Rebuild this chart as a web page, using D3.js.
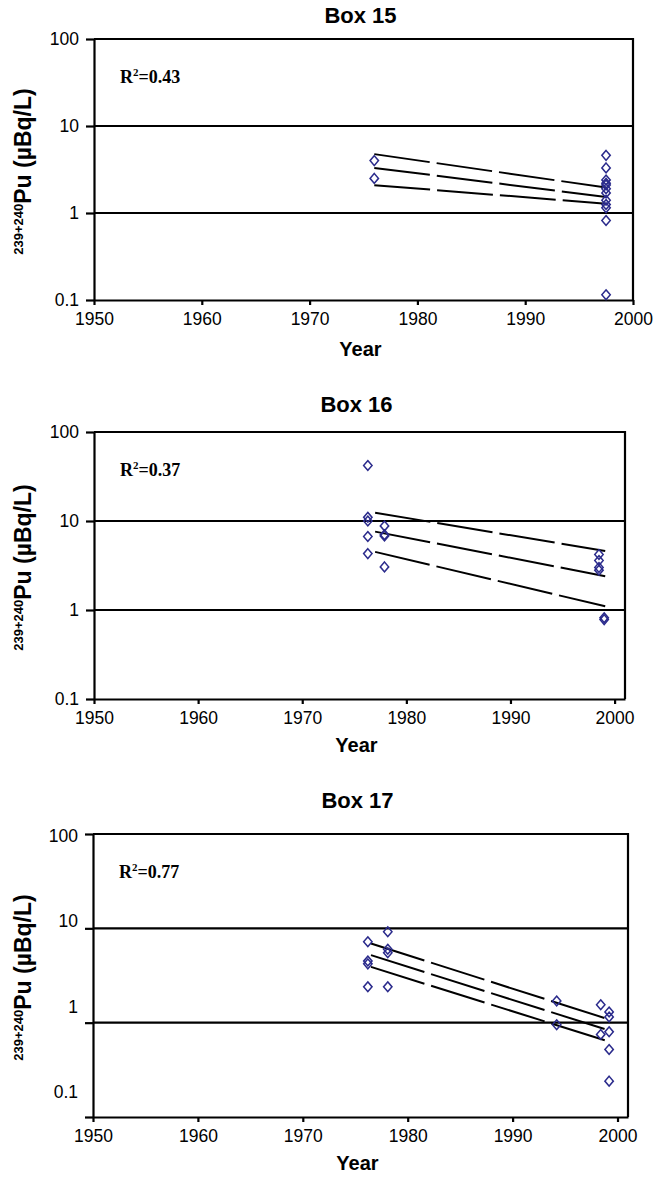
<!DOCTYPE html>
<html>
<head>
<meta charset="utf-8">
<script src="https://cdn.jsdelivr.net/npm/d3@7"></script>
<style>
  body { margin: 0; background: #fff; }
  svg { display: block; }
</style>
</head>
<body>
<svg id="chart" width="656" height="1180"></svg>
<script>
// ---- data -------------------------------------------------------------
const boxNames = ["Box 15", "Box 16", "Box 17"];
const rSquared = ["0.43", "0.37", "0.77"];
const yTicks = [0.1, 1, 10, 100];
const xTicks = [1950, 1960, 1970, 1980, 1990, 2000];

// 239+240Pu activity (µBq/L) by sampling year
const box15Years  = [1976, 1976, 1997.5, 1997.5, 1997.5, 1997.5, 1997.5, 1997.5, 1997.5, 1997.5, 1997.5, 1997.5, 1997.5, 1997.5];
const box15Values = [4.0, 2.5, 4.6, 3.3, 2.4, 2.2, 2.1, 1.9, 1.7, 1.4, 1.25, 1.15, 0.82, 0.115];

const box16Years  = [1976.3, 1976.3, 1976.3, 1976.3, 1976.3, 1977.9, 1977.9, 1977.9, 1977.9, 1998.5, 1998.5, 1998.5, 1998.5, 1999, 1999];
const box16Values = [42, 11, 10, 6.7, 4.3, 8.8, 7.0, 6.8, 3.05, 4.2, 3.6, 3.0, 2.8, 0.82, 0.78];

const box17Years  = [1976.2, 1976.2, 1976.2, 1976.2, 1978.1, 1978.1, 1978.1, 1978.1, 1994.2, 1994.2, 1998.4, 1998.4, 1999.2, 1999.2, 1999.2, 1999.2, 1999.2];
const box17Values = [7.2, 4.5, 4.2, 2.4, 9.2, 6.0, 5.5, 2.4, 1.7, 0.95, 1.55, 0.75, 1.3, 1.15, 0.8, 0.52, 0.24];

// regression line with its upper and lower bounds (start / end of the fit)
const box15FitYears = [1976, 1997.5];
const box15Upper = [4.75, 1.96];
const box15Fit   = [3.3, 1.53];
const box15Lower = [2.09, 1.28];

const box16FitYears = [1977, 1999.1];
const box16Upper = [12.4, 4.6];
const box16Fit   = [7.6, 2.4];
const box16Lower = [4.5, 1.1];

const box17FitYears = [1976.5, 1999];
const box17Upper = [6.9, 1.1];
const box17Fit   = [5.2, 0.84];
const box17Lower = [3.9, 0.64];

const panels = [
  { name: boxNames[0], r2: rSquared[0], years: box15Years, values: box15Values,
    fitYears: box15FitYears, bands: [box15Upper, box15Fit, box15Lower] },
  { name: boxNames[1], r2: rSquared[1], years: box16Years, values: box16Values,
    fitYears: box16FitYears, bands: [box16Upper, box16Fit, box16Lower] },
  { name: boxNames[2], r2: rSquared[2], years: box17Years, values: box17Values,
    fitYears: box17FitYears, bands: [box17Upper, box17Fit, box17Lower] }
];

// ---- layout -----------------------------------------------------------
const frames = [
  { left: 94, right: 633, top: 39,  bottom: 300,  xMax: 2000, titleY: 23,  yearY: 356 },
  { left: 94, right: 625, top: 432, bottom: 699,  xMax: 2001, titleY: 412, yearY: 752 },
  { left: 93, right: 628, top: 834, bottom: 1117, xMax: 2001, titleY: 808, yearY: 1170,
    labelTop: 836, labelBottom: 1092 }
];

const INK = "#000";
const MARK = "#2b2b8c";
const sans = "'Liberation Sans', Arial, sans-serif";
const serif = "'Liberation Serif', 'Times New Roman', serif";

const svg = d3.select("#chart");

panels.forEach((p, i) => {
  const f = frames[i];
  const x = d3.scaleLinear().domain([1950, f.xMax]).range([f.left, f.right]);
  const y = d3.scaleLog().domain([0.1, 100]).range([f.bottom, f.top]);
  const g = svg.append("g");

  // title
  g.append("text")
    .attr("x", (f.left + f.right) / 2 - 3).attr("y", f.titleY)
    .attr("text-anchor", "middle")
    .style("font", `bold 22px ${sans}`).attr("fill", INK)
    .text(p.name);

  // horizontal rules at 1 and 10, frame top and right
  g.selectAll("line.rule").data([1, 10]).join("line")
    .attr("class", "rule")
    .attr("x1", f.left).attr("x2", f.right)
    .attr("y1", d => y(d)).attr("y2", d => y(d))
    .attr("stroke", INK).attr("stroke-width", 2.2);
  g.append("path")
    .attr("d", `M${f.left},${y(100)}H${f.right}V${y(0.1)}`)
    .attr("fill", "none").attr("stroke", INK).attr("stroke-width", 2.2);

  // axes
  const xAxis = g.append("g")
    .attr("transform", `translate(0,${f.bottom})`)
    .call(d3.axisBottom(x).tickValues(xTicks).tickFormat(d3.format("d"))
      .tickSize(5).tickSizeOuter(0).tickPadding(8));
  const labelled = f.labelTop === undefined;
  const yAxis = g.append("g")
    .attr("transform", `translate(${f.left},0)`)
    .call(d3.axisLeft(y).tickValues(yTicks)
      .tickFormat(labelled ? (d => String(d)) : () => "")
      .tickSize(8).tickSizeOuter(0).tickPadding(7));

  if (!labelled) {
    // tick labels set on their own spacing in this panel
    const yl = d3.scaleLog().domain([0.1, 100]).range([f.labelBottom, f.labelTop]);
    const lab = g.append("g")
      .attr("transform", `translate(${f.left},0)`)
      .call(d3.axisLeft(yl).tickValues(yTicks).tickFormat(d => String(d))
        .tickSize(0).tickPadding(15));
    lab.select(".domain").remove();
    lab.selectAll("text").style("font", `17.5px ${sans}`).attr("fill", INK);
  }

  [xAxis, yAxis].forEach(a => {
    a.select(".domain").attr("stroke", INK).attr("stroke-width", 2.2);
    a.selectAll(".tick line").attr("stroke", INK).attr("stroke-width", 2.2);
    a.selectAll("text").style("font", `17.5px ${sans}`).attr("fill", INK);
  });

  // axis titles
  g.append("text")
    .attr("x", (f.left + f.right) / 2 - 3).attr("y", f.yearY)
    .attr("text-anchor", "middle")
    .style("font", `bold 20px ${sans}`).attr("fill", INK)
    .text("Year");

  const yt = g.append("text")
    .attr("transform", `translate(31,${(f.top + f.bottom) / 2 + 2}) rotate(-90)`)
    .attr("text-anchor", "middle")
    .style("font-family", sans).style("font-weight", "bold").attr("fill", INK);
  yt.append("tspan").style("font-size", "13px").attr("dy", -8).text("239+240");
  yt.append("tspan").style("font-size", "23px").attr("dy", 8).text("Pu (µBq/L)");

  // R² annotation
  const rt = g.append("text")
    .attr("x", f.left + 26).attr("y", f.top + 44)
    .style("font-family", serif).style("font-weight", "bold")
    .style("font-size", "18px").attr("fill", INK);
  rt.append("tspan").text("R");
  rt.append("tspan").style("font-size", "11px").attr("dy", -7).text("2");
  rt.append("tspan").attr("dy", 7).text("=" + p.r2);

  // fit and bounds
  const line = d3.line().x(d => x(d[0])).y(d => y(d[1]));
  g.selectAll("path.fit").data(p.bands).join("path")
    .attr("class", "fit")
    .attr("d", b => line(p.fitYears.map((yr, k) => [yr, b[k]])))
    .attr("fill", "none").attr("stroke", INK).attr("stroke-width", 2)
    .attr("stroke-dasharray", "56,7");

  // measurements
  const pts = p.years.map((yr, k) => [yr, p.values[k]]);
  g.selectAll("path.pt").data(pts).join("path")
    .attr("class", "pt")
    .attr("transform", d => `translate(${x(d[0])},${y(d[1])}) scale(0.95,1.1)`)
    .attr("d", d3.symbol(d3.symbolDiamond2, 50))
    .attr("fill", "none").attr("stroke", MARK).attr("stroke-width", 1.5);
});
</script>
</body>
</html>
